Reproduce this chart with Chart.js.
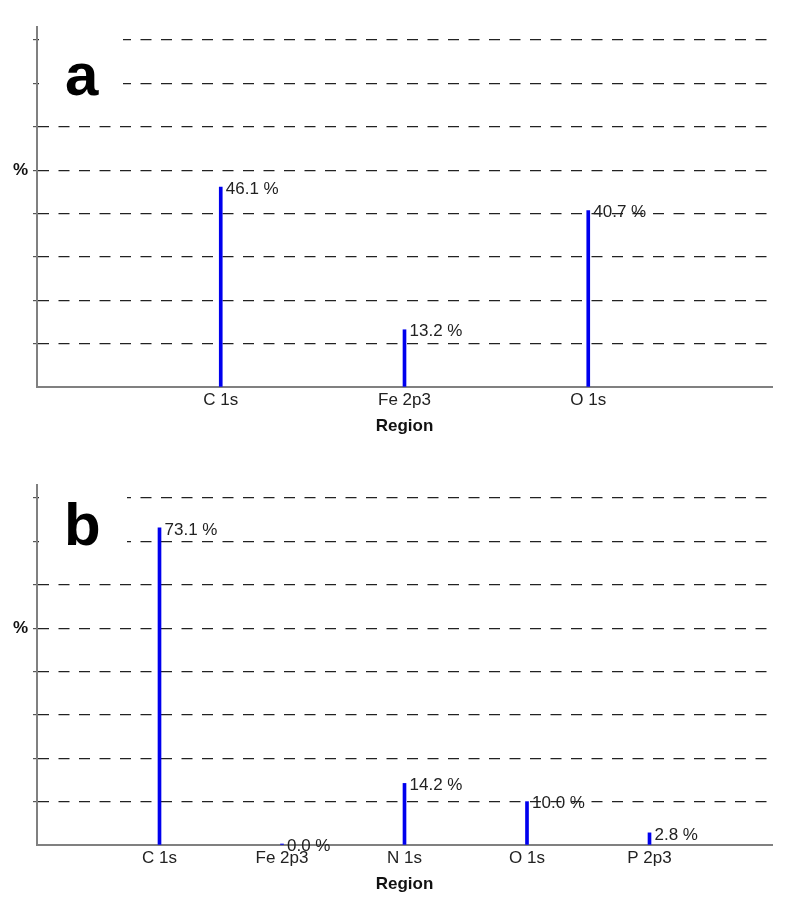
<!DOCTYPE html>
<html>
<head>
<meta charset="utf-8">
<script src="https://cdn.jsdelivr.net/npm/chart.js@4.4.1/dist/chart.umd.min.js"></script>
<style>
  html, body { margin: 0; padding: 0; background: #fff; }
  .panel { position: absolute; left: 0; width: 800px; height: 448px; }
</style>
</head>
<body>
<div class="panel" style="top:0"><canvas id="chartA" width="800" height="448"></canvas></div>
<div class="panel" style="top:458px"><canvas id="chartB" width="800" height="448"></canvas></div>
<script>
// panel a
const regionsA = ['C 1s', 'Fe 2p3', 'O 1s'];
const percentA = [46.1, 13.2, 40.7];
// panel b
const regionsB = ['C 1s', 'Fe 2p3', 'N 1s', 'O 1s', 'P 2p3'];
const percentB = [73.1, 0.0, 14.2, 10.0, 2.8];
// shared y axis
const yTicks = [0, 10, 20, 30, 40, 50, 60, 70, 80];
const yMax = 83;
const yTitleAt = 50;

const FONT = '"Liberation Sans", Arial, sans-serif';

const valueLabels = {
  id: 'valueLabels',
  afterDatasetsDraw(chart) {
    const ctx = chart.ctx;
    const meta = chart.getDatasetMeta(0);
    const data = chart.data.datasets[0].data;
    ctx.save();
    ctx.font = '17px ' + FONT;
    ctx.fillStyle = '#222';
    ctx.textBaseline = 'middle';
    meta.data.forEach((bar, i) => {
      ctx.fillText(data[i].y.toFixed(1) + ' %', bar.x + 5, bar.y + 2);
    });
    ctx.restore();
  }
};

const panelLetter = {
  id: 'panelLetter',
  beforeDatasetsDraw(chart, args, opts) {
    const ctx = chart.ctx;
    const area = chart.chartArea;
    ctx.save();
    ctx.fillStyle = '#fff';
    ctx.fillRect(area.left + 2, area.top, opts.boxRight - area.left - 2, opts.boxBottom - area.top);
    ctx.fillStyle = '#000';
    ctx.font = 'bold 60px ' + FONT;
    ctx.fillText(opts.text, opts.x, opts.baseline);
    ctx.restore();
  }
};

function makeChart(id, regions, values, letter) {
  return new Chart(document.getElementById(id), {
    type: 'bar',
    data: {
      datasets: [{
        data: values.map((v, i) => ({ x: i + 1, y: v })),
        backgroundColor: '#0000ee',
        barThickness: 3,
        minBarLength: 1
      }]
    },
    options: {
      responsive: false,
      animation: false,
      layout: { padding: { top: 27, right: 28, bottom: 0, left: 0 } },
      plugins: {
        legend: { display: false },
        tooltip: { enabled: false },
        panelLetter: letter
      },
      scales: {
        x: {
          type: 'linear',
          offset: false,
          min: 0,
          max: regions.length + 1,
          afterBuildTicks: s => { s.ticks = regions.map((r, i) => ({ value: i + 1 })); },
          afterFit: s => { s.height = 61; },
          grid: { display: false },
          border: { color: '#808080', width: 2 },
          ticks: {
            autoSkip: false,
            maxRotation: 0,
            padding: -5,
            color: '#222',
            font: { size: 17, family: FONT },
            callback: v => regions[v - 1] ?? ''
          },
          title: {
            display: true,
            text: 'Region',
            color: '#111',
            font: { size: 17, weight: 'bold', family: FONT },
            padding: { top: 0, bottom: 11 }
          }
        },
        y: {
          min: 0,
          max: yMax,
          afterBuildTicks: s => { s.ticks = yTicks.map(v => ({ value: v })); },
          afterFit: s => { s.width = 37; },
          grid: {
            color: c => c.tick && c.tick.value === 0 ? 'rgba(0,0,0,0)' : '#222',
            tickColor: c => c.tick && c.tick.value === 0 ? 'rgba(0,0,0,0)' : '#555',
            lineWidth: 1.2,
            tickLength: 4
          },
          border: { color: '#808080', width: 2, dash: [11, 9.5] },
          ticks: {
            padding: 5,
            color: '#111',
            font: { size: 17, weight: 'bold', family: FONT },
            callback: v => v === yTitleAt ? '%' : ''
          }
        }
      }
    },
    plugins: [panelLetter, valueLabels]
  });
}

makeChart('chartA', regionsA, percentA, { text: 'a', x: 65, baseline: 95, boxRight: 123, boxBottom: 108 });
makeChart('chartB', regionsB, percentB, { text: 'b', x: 64, baseline: 87, boxRight: 127, boxBottom: 108 });
</script>
</body>
</html>
